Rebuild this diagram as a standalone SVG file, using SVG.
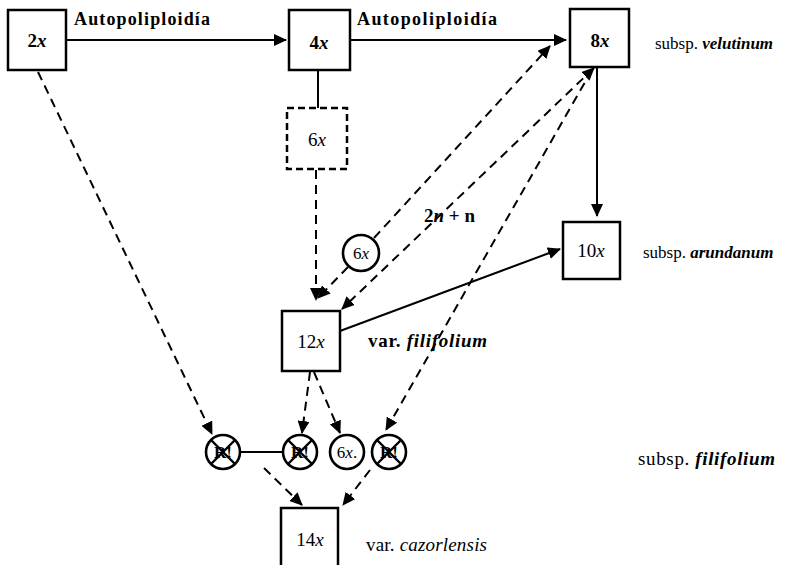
<svg xmlns="http://www.w3.org/2000/svg" width="802" height="565" viewBox="0 0 802 565">
<style>
.box{fill:#fff;stroke:#000;stroke-width:2.5}
.dbox{fill:#fff;stroke:#000;stroke-width:2.5;stroke-dasharray:7 4}
.cir{fill:#fff;stroke:#000;stroke-width:2.6}
.solid{fill:none;stroke:#000;stroke-width:2}
.dash{fill:none;stroke:#000;stroke-width:2;stroke-dasharray:9 6}
.lbl{font-family:"Liberation Serif",serif;font-size:19px;font-weight:bold;text-anchor:middle}
.ttl{font-family:"Liberation Serif",serif;font-size:18px;font-weight:bold}
.sp{font-family:"Liberation Serif",serif;font-size:19px;font-weight:bold}
.sm{font-family:"Liberation Serif",serif;font-size:17px}
.x{font-style:italic}
.cx{font-family:"Liberation Serif",serif;font-size:17px;font-weight:bold;text-anchor:middle}
.xx{stroke:#000;stroke-width:2.4}
</style>
<defs>
<marker id="ah" markerUnits="userSpaceOnUse" markerWidth="14" markerHeight="12" refX="12" refY="6" orient="auto-start-reverse">
<path d="M0,0 L13,6 L0,12 Z" fill="#000"/>
</marker>
</defs>
<g id="connectors">
<line class="solid" x1="66" y1="40" x2="286" y2="40" marker-end="url(#ah)"/>
<line class="solid" x1="350" y1="40" x2="566" y2="40" marker-end="url(#ah)"/>
<line class="solid" x1="318" y1="70" x2="318" y2="108"/>
<line class="dash" x1="316" y1="170" x2="316" y2="300" marker-end="url(#ah)"/>
<line class="dash" x1="374" y1="238" x2="550" y2="46" marker-end="url(#ah)"/>
<line class="dash" x1="348" y1="267" x2="318" y2="298" marker-end="url(#ah)"/>
<line class="dash" x1="594" y1="68" x2="342" y2="309" marker-start="url(#ah)" marker-end="url(#ah)"/>
<line class="dash" x1="592" y1="70" x2="386" y2="430" marker-end="url(#ah)"/>
<line class="solid" x1="597" y1="67" x2="597" y2="216" marker-end="url(#ah)"/>
<line class="solid" x1="340" y1="331" x2="560" y2="249" marker-end="url(#ah)"/>
<line class="dash" x1="38" y1="72" x2="212" y2="434" marker-end="url(#ah)"/>
<line class="dash" x1="310" y1="372" x2="302" y2="433" marker-end="url(#ah)"/>
<line class="dash" x1="314" y1="372" x2="340" y2="433" marker-end="url(#ah)"/>
<line class="solid" x1="240" y1="452" x2="283" y2="452"/>
<line class="dash" x1="264" y1="468" x2="302" y2="505" marker-end="url(#ah)"/>
<line class="dash" x1="370" y1="470" x2="343" y2="505" marker-end="url(#ah)"/>
</g>
<g id="labels">
<text class="ttl" x="74" y="25" textLength="136" lengthAdjust="spacing">Autopoliploidía</text>
<text class="ttl" x="357" y="25" textLength="140" lengthAdjust="spacing">Autopoliploidía</text>
<text class="sp" x="424" y="222">2<tspan class="x">n</tspan> + n</text>
</g>
<g id="n2x"><rect class="box" x="8" y="10" width="58" height="60"/><text class="lbl" x="37" y="47">2<tspan class="x">x</tspan></text></g>
<g id="n4x"><rect class="box" x="289" y="10" width="61" height="60"/><text class="lbl" x="319" y="49">4<tspan class="x">x</tspan></text></g>
<g id="n8x"><rect class="box" x="570" y="9" width="59" height="58"/><text class="lbl" x="600" y="47">8<tspan class="x">x</tspan></text>
<text class="sm" x="655" y="49">subsp. <tspan class="x" style="font-weight:bold">velutinum</tspan></text></g>
<g id="n6x"><rect class="dbox" x="287" y="108" width="60" height="61"/><text class="lbl" x="317" y="146" style="font-weight:normal">6<tspan class="x">x</tspan></text></g>
<g id="c6x"><circle class="cir" cx="361" cy="253" r="18"/><text class="cx" x="361" y="259" style="font-weight:normal">6<tspan class="x">x</tspan></text></g>
<g id="n10x"><rect class="box" x="563" y="222" width="57" height="57"/><text class="lbl" x="591" y="257" style="font-weight:normal">10<tspan class="x">x</tspan></text>
<text class="sm" x="643" y="258">subsp. <tspan class="x" style="font-weight:bold">arundanum</tspan></text></g>
<g id="n12x"><rect class="box" x="282" y="311" width="58" height="60"/><text class="lbl" x="311" y="348" style="font-weight:normal">12<tspan class="x">x</tspan></text>
<text class="sp" x="368" y="347" textLength="119" lengthAdjust="spacing">var. <tspan class="x">filifolium</tspan></text></g>
<g id="r1"><circle class="cir" cx="223" cy="452" r="17"/><text class="cx" x="223" y="458">R!</text><line class="xx" x1="211" y1="440" x2="235" y2="464"/><line class="xx" x1="235" y1="440" x2="211" y2="464"/></g>
<g id="r2"><circle class="cir" cx="300" cy="452" r="17"/><text class="cx" x="300" y="458">R!</text><line class="xx" x1="288" y1="440" x2="312" y2="464"/><line class="xx" x1="312" y1="440" x2="288" y2="464"/></g>
<g id="c6b"><circle class="cir" cx="347" cy="452" r="17"/><text class="cx" x="347" y="458" style="font-weight:normal">6<tspan class="x">x</tspan>.</text></g>
<g id="r4"><circle class="cir" cx="389" cy="452" r="17"/><text class="cx" x="389" y="458">R!</text><line class="xx" x1="377" y1="440" x2="401" y2="464"/><line class="xx" x1="401" y1="440" x2="377" y2="464"/></g>
<g id="sfil"><text class="sp" x="638" y="465" style="font-weight:normal" textLength="137" lengthAdjust="spacing">subsp. <tspan class="x" style="font-weight:bold">filifolium</tspan></text></g>
<g id="n14x"><rect class="box" x="281" y="508" width="57" height="62"/><text class="lbl" x="310" y="546" style="font-weight:normal">14<tspan class="x">x</tspan></text>
<text class="sp" x="366" y="551" style="font-weight:normal" textLength="121" lengthAdjust="spacing">var. <tspan class="x">cazorlensis</tspan></text></g>
</svg>
